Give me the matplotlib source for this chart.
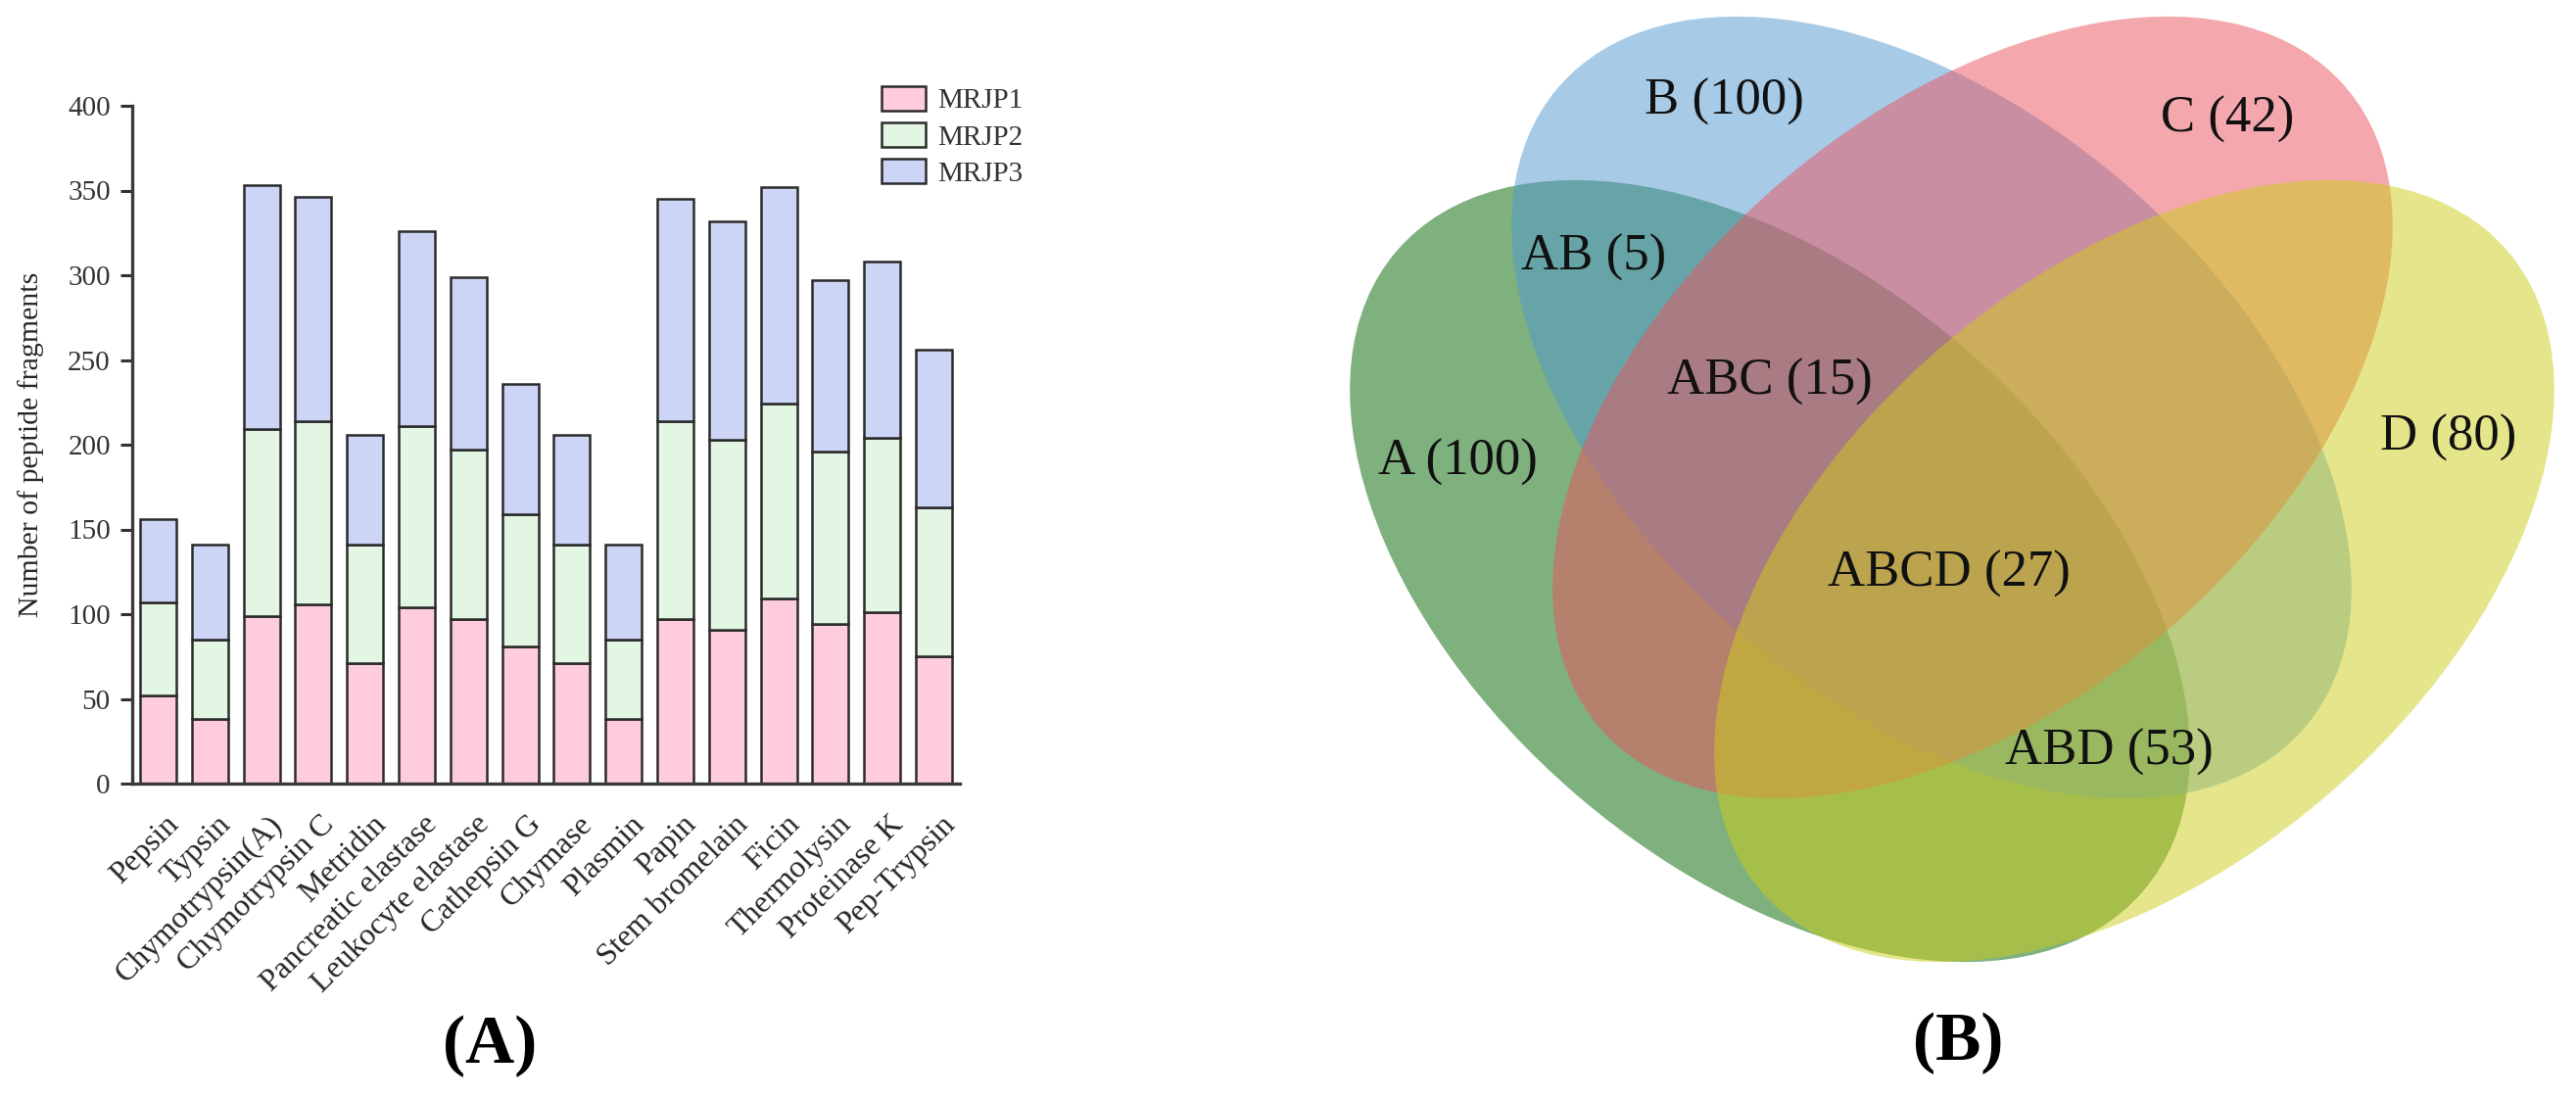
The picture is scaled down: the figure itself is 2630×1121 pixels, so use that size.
import numpy as np
import matplotlib.pyplot as plt
from matplotlib.patches import Ellipse
from matplotlib.transforms import ScaledTranslation

# --- data -------------------------------------------------------------
enzymes = ['Pepsin', 'Typsin', 'Chymotrypsin(A)', 'Chymotrypsin C', 'Metridin',
           'Pancreatic elastase', 'Leukocyte elastase', 'Cathepsin G', 'Chymase',
           'Plasmin', 'Papin', 'Stem bromelain', 'Ficin', 'Thermolysin',
           'Proteinase K', 'Pep-Trypsin']
mrjp1 = [52, 38, 99, 106, 71, 104, 97, 81, 71, 38, 97, 91, 109, 94, 101, 75]
mrjp2 = [55, 47, 110, 108, 70, 107, 100, 78, 70, 47, 117, 112, 115, 102, 103, 88]
mrjp3 = [49, 56, 144, 132, 65, 115, 102, 77, 65, 56, 131, 129, 128, 101, 104, 93]
series_names = ['MRJP1', 'MRJP2', 'MRJP3']
yticks = [0, 50, 100, 150, 200, 250, 300, 350, 400]

venn_sets = ['A', 'B', 'C', 'D']
venn_regions = ['A', 'B', 'C', 'D', 'AB', 'ABC', 'ABCD', 'ABD']
venn_counts = [100, 100, 42, 80, 5, 15, 27, 53]

plt.rcParams['font.family'] = ['Liberation Serif', 'DejaVu Serif']

fig = plt.figure(figsize=(26.3, 11.21), dpi=100)

# pixel-space overlay for the venn diagram and panel letters
ov = fig.add_axes([0, 0, 1, 1], zorder=0)
ov.set_xlim(0, 2630)
ov.set_ylim(1121, 0)
ov.axis('off')

# --- (A) stacked bars -------------------------------------------------
ax = fig.add_axes([135 / 2630, 1 - 800 / 1121, 845 / 2630, 692 / 1121], zorder=1)
ax.patch.set_alpha(0)
x = np.arange(len(enzymes))
colors = ['#ffccdd', '#e3f5e3', '#ccd5f5']
bottom = np.zeros(len(enzymes))
for vals, name, col in zip([mrjp1, mrjp2, mrjp3], series_names, colors):
    ax.bar(x, vals, 0.7, bottom=bottom, color=col, edgecolor='#2b2b2b',
           linewidth=1.8, label=name)
    bottom += np.array(vals)

ax.set_xlim(-0.5, 15.5)
ax.set_ylim(0, 400)
ax.set_yticks(yticks)
ax.tick_params(axis='y', labelsize=21, length=9, width=2.2, pad=7,
               colors='#333333', labelcolor='#333333')
ax.tick_params(axis='x', length=0, pad=27, labelcolor='#262626')
ax.set_xticks(x)
ax.set_xticklabels(enzymes, rotation=45, ha='right', va='center',
                   rotation_mode='anchor', fontsize=23)
shift = ScaledTranslation(0.17, 0, fig.dpi_scale_trans)
for lab in ax.get_xticklabels():
    lab.set_transform(lab.get_transform() + shift)
for s in ['top', 'right']:
    ax.spines[s].set_visible(False)
for s in ['left', 'bottom']:
    ax.spines[s].set_linewidth(2.4)
    ax.spines[s].set_color('#3a3a3a')
ax.set_ylabel('Number of peptide fragments', fontsize=21.5, color='#262626')
ax.yaxis.set_label_coords(-0.107, 0.5)

ax.legend(loc='upper left', bbox_to_anchor=(900 / 2630, 1 - 88 / 1121),
          bbox_transform=fig.transFigure, frameon=False, fontsize=21,
          handlelength=1.55, handleheight=0.93, handletextpad=0.4,
          labelspacing=0.3, borderpad=0, borderaxespad=0)
for t in ax.get_legend().get_texts():
    t.set_color('#333333')

# --- (B) venn diagram -------------------------------------------------
ell_a, ell_b, ell_ang = 502, 302, 40.6
centres = {'A': (1807, 583), 'B': (1972, 416), 'C': (2014, 416), 'D': (2179, 583)}
angles = {'A': ell_ang, 'B': ell_ang, 'C': -ell_ang, 'D': -ell_ang}
fills = {'A': '#006400', 'B': '#5199d1', 'C': '#eb535d', 'D': '#cdcd19'}
for s in venn_sets:
    ov.add_patch(Ellipse(centres[s], 2 * ell_a, 2 * ell_b, angle=angles[s],
                         facecolor=fills[s], alpha=0.5, edgecolor='none'))

label_pos = {'A': (1488, 472), 'B': (1760, 104), 'C': (2274, 122),
             'D': (2500, 447), 'AB': (1627, 263), 'ABC': (1807, 390),
             'ABCD': (1990, 586), 'ABD': (2153, 768)}
for reg, n in zip(venn_regions, venn_counts):
    ov.text(*label_pos[reg], f'{reg} ({n})', fontsize=38, ha='center',
            va='center', color='#111111')

ov.text(500, 1068, '(A)', fontsize=50, fontweight='bold', ha='center', va='center')
ov.text(1999, 1065, '(B)', fontsize=50, fontweight='bold', ha='center', va='center')

fig.savefig('out.png', dpi=100)
